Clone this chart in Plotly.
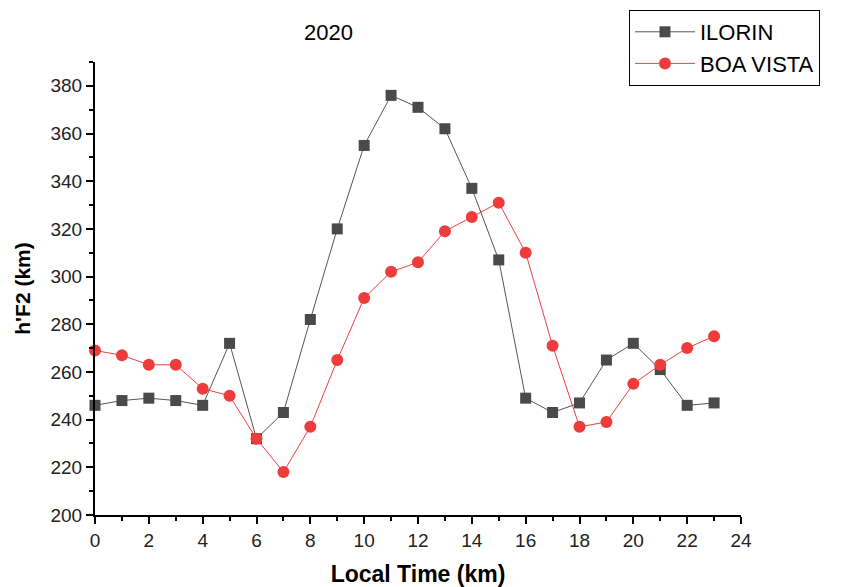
import plotly.graph_objects as go

hours = list(range(24))
ilorin = [246, 248, 249, 248, 246, 272, 232, 243, 282, 320, 355, 376,
          371, 362, 337, 307, 249, 243, 247, 265, 272, 261, 246, 247]
boa_vista = [269, 267, 263, 263, 253, 250, 232, 218, 237, 265, 291, 302,
             306, 319, 325, 331, 310, 271, 237, 239, 255, 263, 270, 275]

FONT = "Liberation Sans, Arial, sans-serif"
OFF = 8  # page body margin
W, H = 845 - OFF, 587 - OFF
L, T = 95 - OFF, 62 - OFF
R, B = 845 - 741, 587 - 515
PW, PH = W - L - R, H - T - B

fig = go.Figure()
fig.add_trace(go.Scatter(
    x=hours, y=ilorin, name="ILORIN", mode="lines+markers",
    line=dict(color="#555555", width=1),
    marker=dict(symbol="square", size=11, color="#4a4a4a"),
    cliponaxis=False,
))
fig.add_trace(go.Scatter(
    x=hours, y=boa_vista, name="BOA VISTA", mode="lines+markers",
    line=dict(color="#f04040", width=1),
    marker=dict(symbol="circle", size=12, color="#ee3b3b"),
    cliponaxis=False,
))

fig.update_layout(
    width=W, height=H,
    margin=dict(l=L, r=R, t=T, b=B, autoexpand=False),
    paper_bgcolor="white", plot_bgcolor="white",
    font=dict(family=FONT, color="#000000"),
    showlegend=True,
    legend=dict(
        x=(629 - 95) / PW, y=1 + (62 - 10) / PH,
        xanchor="left", yanchor="top",
        bordercolor="#000000", borderwidth=1, bgcolor="white",
        font=dict(size=22, family=FONT),
        itemwidth=60, tracegroupgap=0,
    ),
    annotations=[dict(
        text="2020", x=(328 - 95) / PW, y=1 + (62 - 32) / PH,
        xref="paper", yref="paper", xanchor="center", yanchor="middle",
        showarrow=False, font=dict(size=22, family=FONT),
    )],
)

fig.update_xaxes(
    range=[0, 24], tickmode="linear", tick0=0, dtick=2,
    showgrid=False, zeroline=False,
    showline=True, linecolor="#000000", linewidth=2,
    ticks="outside", ticklen=7, tickwidth=2, tickcolor="#000000",
    minor=dict(ticks="outside", dtick=1, ticklen=4, tickwidth=2, tickcolor="#000000"),
    tickfont=dict(size=19, family=FONT, color="#222222"),
    title=dict(text="<b>Local Time (km)</b>", font=dict(size=23, family=FONT), standoff=16),
)
fig.update_yaxes(
    range=[200, 390], tickmode="linear", tick0=200, dtick=20,
    showgrid=False, zeroline=False,
    showline=True, linecolor="#000000", linewidth=2,
    ticks="outside", ticklen=7, tickwidth=2, tickcolor="#000000",
    minor=dict(ticks="outside", dtick=10, ticklen=4, tickwidth=2, tickcolor="#000000"),
    tickfont=dict(size=19, family=FONT, color="#222222"),
    title=dict(text="<b>h'F2 (km)</b>", font=dict(size=21, family=FONT), standoff=14),
)

fig.write_html("out.html")
